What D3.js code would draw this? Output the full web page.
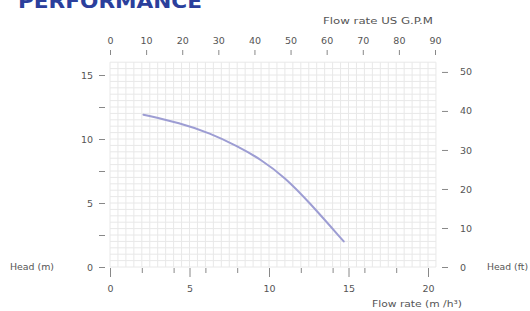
<!DOCTYPE html>
<html>
<head>
<meta charset="utf-8">
<script src="https://cdn.jsdelivr.net/npm/d3@7"></script>
<style>
  body { margin: 0; background: #fff; }
  svg text { font-family: "DejaVu Sans", sans-serif; fill: #555; }
  .axis path { display: none; }
  .axis line { stroke: #888; }
  .axis text { font-size: 9.5px; fill: #555; }
  .grid line { stroke: #e8e8e8; stroke-width: 1; }
</style>
</head>
<body>
<div id="chart"></div>
<script>
// pump curve
const flow = [2.1, 4.4, 6.3, 8.0, 9.5, 11.0, 12.5, 14.7];    // m3/h
const head = [11.9, 11.25, 10.45, 9.45, 8.4, 7.0, 5.1, 2.0]; // m

const flowTicks = [0, 5, 10, 15, 20];
const flowMinor = [2, 4, 6, 8, 12, 14, 16, 18];
const headTicks = [0, 2.5, 5, 7.5, 10, 12.5, 15];
const gpmTicks = [0, 10, 20, 30, 40, 50, 60, 70, 80, 90];
const ftTicks = [0, 10, 20, 30, 40, 50];

const width = 530, height = 311;

const svg = d3.select("#chart").append("svg")
  .attr("width", width).attr("height", height);

// x in m3/h, y in m
let x = d3.scaleLinear().domain([0, 20]).range([110, 428]);
let y = d3.scaleLinear().domain([0, 15]).range([267, 75]);

// grid every 0.5 unit
const gx = d3.range(0, 20.51, 0.5);
const gy = d3.range(0, 16.01, 0.5);
const grid = svg.append("g").attr("class", "grid");
grid.selectAll(".v").data(gx).join("line")
  .attr("x1", d => x(d)).attr("x2", d => x(d))
  .attr("y1", y(0)).attr("y2", y(16));
grid.selectAll(".h").data(gy).join("line")
  .attr("x1", x(0)).attr("x2", x(20.5))
  .attr("y1", d => y(d)).attr("y2", d => y(d));

// left axis (m)
svg.append("g")
  .attr("class", "axis")
  .attr("transform", "translate(105,0)")
  .call(d3.axisLeft(y).tickValues(headTicks).tickSize(6).tickPadding(6)
    .tickFormat(d => d % 5 === 0 ? d : ""));

// bottom axis (m3/h)
svg.append("g")
  .attr("class", "axis")
  .attr("transform", "translate(0,268)")
  .call(d3.axisBottom(x).tickValues(flowTicks).tickSize(9).tickPadding(8));
svg.append("g")
  .attr("class", "axis")
  .attr("transform", "translate(0,268)")
  .call(d3.axisBottom(x).tickValues(flowMinor).tickSize(5).tickFormat(""));

// top axis (US GPM)
let xg = d3.scaleLinear().domain([0, 20 * 4.403]).range([110, 428]);
svg.append("g")
  .attr("class", "axis")
  .attr("transform", "translate(0,55)")
  .call(d3.axisTop(xg).tickValues(gpmTicks).tickSize(5).tickPadding(6));

// right axis (ft)
let yf = d3.scaleLinear().domain([0, 15 / 0.3048]).range([267, 75]);
svg.append("g")
  .attr("class", "axis")
  .attr("transform", "translate(442,0)")
  .call(d3.axisRight(yf).tickValues(ftTicks).tickSize(6).tickPadding(12));

// curve
const pts = flow.map((f, i) => [f, head[i]]);
svg.append("path")
  .datum(pts)
  .attr("fill", "none")
  .attr("stroke", "#9d9dd3")
  .attr("stroke-width", 2)
  .attr("stroke-linecap", "round")
  .attr("d", d3.line().x(d => x(d[0])).y(d => y(d[1])).curve(d3.curveBasis));

// ------------ Titles ----------------- //
function label(tx, ty, len, str) {
  svg.append("text")
    .attr("x", tx).attr("y", ty)
    .style("font-size", "9px")
    .attr("textLength", len)
    .attr("lengthAdjust", "spacingAndGlyphs")
    .text(str);
}

svg.append("text")
  .attr("x", 18).attr("y", 8)
  .style("font-size", "20px").style("font-weight", "bold")
  .style("fill", "#2b3f9c")
  .attr("textLength", 184)
  .attr("lengthAdjust", "spacingAndGlyphs")
  .text("PERFORMANCE");

label(323, 24, 110, "Flow rate US  G.P.M");
label(10, 270, 44, "Head (m)");
label(487, 270, 41, "Head (ft)");
label(372, 307, 90, "Flow rate  (m /h³)");
</script>
</body>
</html>
